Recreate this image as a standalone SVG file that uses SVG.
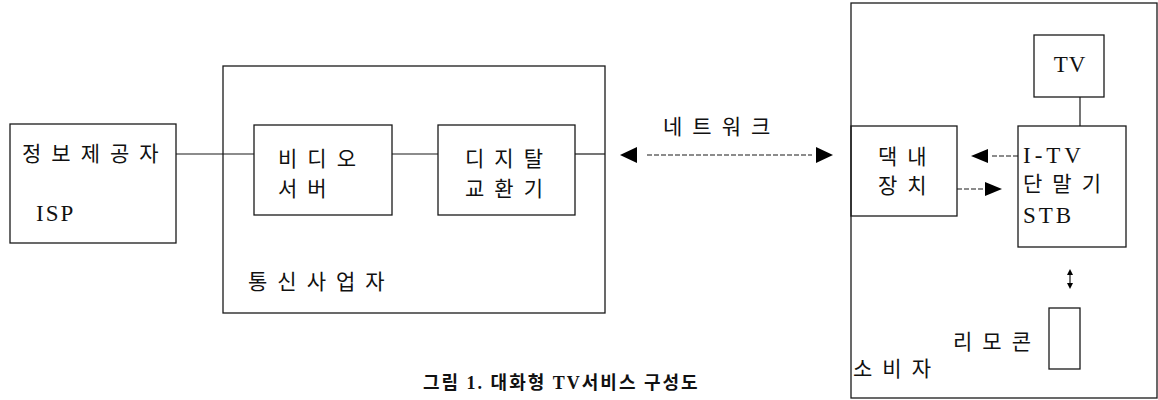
<svg xmlns="http://www.w3.org/2000/svg" width="1158" height="400" viewBox="0 0 1158 400">
<style>
.box{fill:none;stroke:#1a1a1a;stroke-width:1.3}
.ln{fill:none;stroke:#1a1a1a;stroke-width:1.2}
.dash{fill:none;stroke:#1a1a1a;stroke-width:1.2;stroke-dasharray:5 2}
.tri{fill:#000}
text{font-family:"Liberation Serif","Noto Sans CJK KR",serif;fill:#111}
.k{font-size:21px;letter-spacing:10px}
.e{font-size:23px}
.cap{font-size:18px;font-weight:bold;letter-spacing:2px}
</style>
<rect width="1158" height="400" fill="#fff"/>
<g id="isp">
<rect class="box" x="10" y="124" width="166" height="119"/>
<text class="k" x="22" y="161" letter-spacing="9">정보제공자</text>
<text class="e" x="36" y="221" letter-spacing="2">ISP</text>
</g>
<g id="carrier">
<rect class="box" x="223" y="66" width="382" height="247"/>
<text class="k" x="248" y="289">통신사업자</text>
</g>
<g id="video-server">
<rect class="box" x="254" y="125" width="138" height="90"/>
<text class="k" x="278" y="166" letter-spacing="11">비디오</text>
<text class="k" x="278" y="196" letter-spacing="11">서버</text>
</g>
<g id="digital-switch">
<rect class="box" x="438" y="125" width="137" height="90"/>
<text class="k" x="465" y="166" letter-spacing="9">디지탈</text>
<text class="k" x="465" y="196" letter-spacing="9">교환기</text>
</g>
<g id="network-label">
<text class="k" x="663" y="134">네트워크</text>
</g>
<g id="consumer">
<rect class="box" x="851" y="3" width="306" height="395"/>
<text class="k" x="853" y="376" font-size="20" letter-spacing="14">소비자</text>
</g>
<g id="tv">
<rect class="box" x="1034" y="35" width="70" height="62"/>
<text class="e" x="1070" y="72" text-anchor="middle" letter-spacing="1">TV</text>
</g>
<g id="home-device">
<rect class="box" x="851" y="126" width="106" height="90"/>
<text class="k" x="878" y="164" font-size="20" letter-spacing="10">댁내</text>
<text class="k" x="878" y="193" font-size="20" letter-spacing="10">장치</text>
</g>
<g id="stb">
<rect class="box" x="1018" y="126" width="108" height="121"/>
<text class="e" x="1023" y="163" letter-spacing="4">I-TV</text>
<text class="k" x="1023" y="191" font-size="20" letter-spacing="11">단말기</text>
<text class="e" x="1023" y="223" letter-spacing="3">STB</text>
</g>
<g id="remote">
<rect class="box" x="1049" y="308" width="31" height="61"/>
<text class="k" x="953" y="349" font-size="20" letter-spacing="8">리모콘</text>
</g>
<g id="connectors">
<line class="ln" x1="176" y1="154" x2="254" y2="154"/>
<line class="ln" x1="392" y1="154" x2="438" y2="154"/>
<line class="ln" x1="575" y1="154" x2="605" y2="154"/>
<polygon class="tri" points="620,155 637,147 637,163"/>
<polygon class="tri" points="833,155 816,147 816,163"/>
<line class="dash" x1="647" y1="155" x2="812" y2="155"/>
<line class="ln" x1="1080" y1="97" x2="1080" y2="126"/>
<polygon class="tri" points="971,156 988,149 988,163"/>
<line class="dash" x1="992" y1="156" x2="1018" y2="156"/>
<line class="dash" x1="957" y1="189" x2="983" y2="189"/>
<polygon class="tri" points="1002,189 985,182 985,196"/>
<line class="ln" x1="1070" y1="272" x2="1070" y2="286"/>
<polygon class="tri" points="1070,269 1067,275 1073,275"/>
<polygon class="tri" points="1070,289 1067,283 1073,283"/>
</g>
<g id="caption">
<text class="cap" x="423" y="389">그림 1. 대화형 TV서비스 구성도</text>
</g>
</svg>
